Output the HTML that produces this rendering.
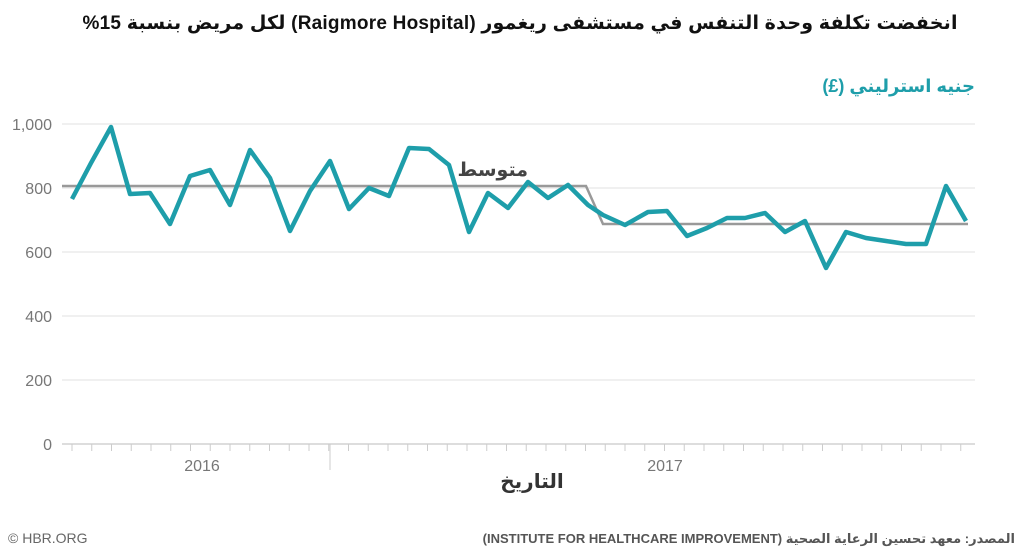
<!DOCTYPE html>
<html><head><meta charset="utf-8"><style>
body{margin:0;background:#fff;width:1024px;height:550px;overflow:hidden;font-family:"Liberation Sans","Noto Sans CJK SC",sans-serif}
</style></head><body>
<svg width="1024" height="550" xmlns="http://www.w3.org/2000/svg" font-family="Liberation Sans, DejaVu Sans, sans-serif">
<text x="520" y="29" text-anchor="middle" font-size="19" font-weight="bold" fill="#111" direction="rtl" textLength="875">انخفضت تكلفة وحدة التنفس في مستشفى ريغمور (Raigmore Hospital) لكل مريض بنسبة 15%</text>
<text x="975" y="92" text-anchor="start" font-size="18" font-weight="bold" fill="#1e9eaa" direction="rtl">جنيه استرليني (£)</text>
<g stroke="#e2e2e2" stroke-width="1">
<line x1="62" y1="124" x2="975" y2="124"/><line x1="62" y1="188" x2="975" y2="188"/><line x1="62" y1="252" x2="975" y2="252"/><line x1="62" y1="316" x2="975" y2="316"/><line x1="62" y1="380" x2="975" y2="380"/>
</g>
<line x1="62" y1="444" x2="975" y2="444" stroke="#ddd" stroke-width="2"/>
<g fill="#777" font-size="16" text-anchor="end">
<text x="52" y="130">1,000</text><text x="52" y="194">800</text><text x="52" y="258">600</text><text x="52" y="322">400</text><text x="52" y="386">200</text><text x="52" y="450">0</text>
</g>
<g stroke="#ccc" stroke-width="1" id="ticks"></g>
<line x1="330" y1="444" x2="330" y2="470" stroke="#ccc"/>
<g fill="#777" font-size="16" text-anchor="middle"><text x="202" y="471">2016</text><text x="665" y="471">2017</text></g>
<text x="532" y="488" text-anchor="middle" font-size="20" font-weight="bold" fill="#333">التاريخ</text>
<polyline fill="none" stroke="#999" stroke-width="2.5" points="62,186 586,186 603,224 968,224"/>
<text x="528" y="176" text-anchor="end" font-size="19" font-weight="bold" fill="#444">متوسط</text>
<polyline fill="none" stroke="#1e9eaa" stroke-width="4.5" stroke-linejoin="round" points="72,199 91,163 111,127 130,194 150,193 170,224 190,176 210,170 230,205 250,150 270,178 290,231 310,191 330,161 349,209 369,188 389,196 409,148 429,149 449,165 469,232 488,193 508,208 528,182 548,198 568,185 588,205 603,215 625,225 648,212 667,211 687,236 707,228 727,218 745,218 765,213 785,232 805,221 826,268 846,232 866,238 886,241 906,244 926,244 946,186 966,221"/>
<text x="8" y="543" font-size="14" fill="#666">© HBR.ORG</text>
<text x="1015" y="543" text-anchor="start" font-size="13" font-weight="bold" fill="#555" direction="rtl">المصدر: معهد تحسين الرعاية الصحية (INSTITUTE FOR HEALTHCARE IMPROVEMENT)</text>
</svg>
<script>
var g=document.getElementById('ticks'),s='';
for(var x=72;x<=975;x+=19.75){s+='<line x1="'+x+'" y1="444" x2="'+x+'" y2="451"/>';}
g.innerHTML=s;
</script>
</body></html>
